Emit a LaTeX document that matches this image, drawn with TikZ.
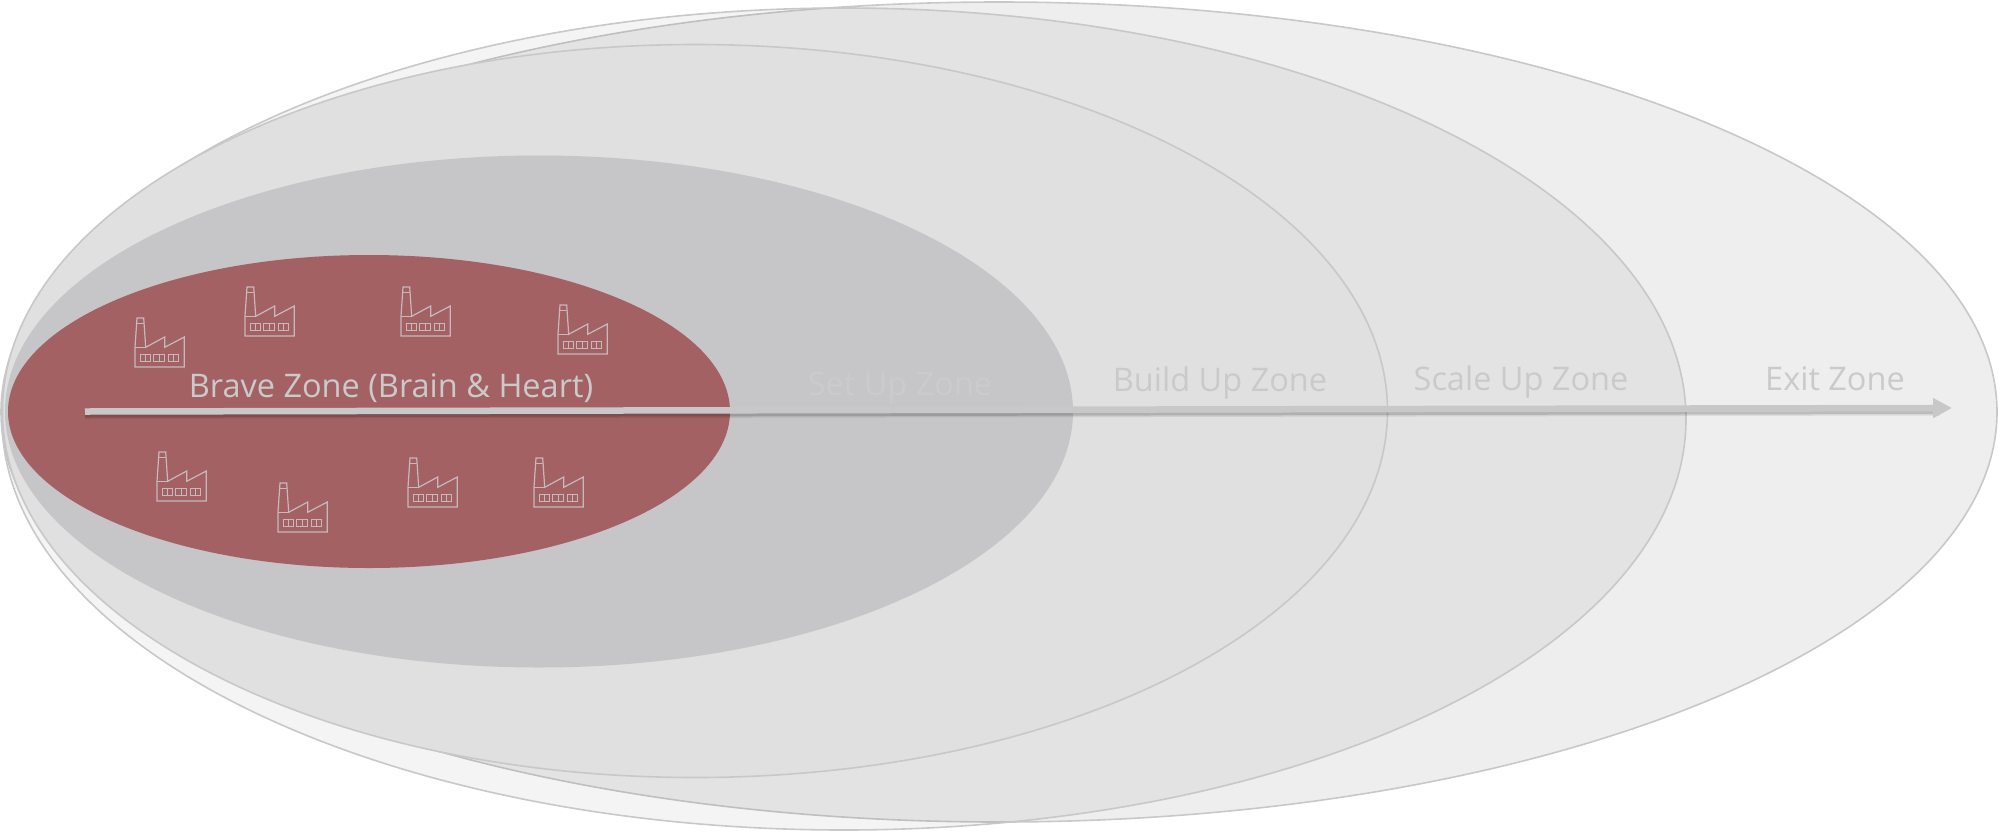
\documentclass[tikz,border=0pt]{standalone}
\usepackage{fontspec}
\setmainfont{Open Sans}
\usepackage{tikz}
\usetikzlibrary{positioning,arrows.meta,shapes.geometric}
\definecolor{exitfill}{HTML}{EEEEEE}
\definecolor{buildfill}{HTML}{E0E0E0}
\definecolor{setupfill}{HTML}{C6C6C8}
\definecolor{bravefill}{HTML}{A46164}
\definecolor{zoneline}{HTML}{C8C8C8}
\definecolor{zonetext}{HTML}{CACACA}
\definecolor{setuptext}{HTML}{CBCBCD}
\definecolor{iconline}{HTML}{C4BABC}
\tikzset{
  zone/.style={ellipse, inner sep=0pt, draw=zoneline, line width=1.6pt},
  zonelabel/.style={inner sep=0pt, anchor=base, text=zonetext, font=\fontsize{32.5}{38}\selectfont},
  factory/.pic={
    \draw[line width=1.2pt, draw=iconline, line join=miter]
      (0,0) -- (0,-19.7) -- (2,-49) -- (8.7,-49) -- (10.7,-19.7) -- (29.7,-30)
      -- (29.7,-19.7) -- (49.3,-30) -- (49.3,0) -- cycle;
    \draw[line width=1pt, draw=iconline] (0,-19.7) -- (10.7,-19.7) (2,-44) -- (8.7,-44);
    \draw[line width=1pt, draw=iconline]
      (5,-12.3) rectangle (15.7,-6) (10.3,-12.3) -- (10.3,-6)
      (18.7,-12.3) rectangle (29.3,-6) (24,-12.3) -- (24,-6)
      (33,-12.3) rectangle (43.7,-6) (38.3,-12.3) -- (38.3,-6);
  }
}
\begin{document}
\begin{tikzpicture}[x=1pt, y=-1pt]
  \useasboundingbox (0,0) rectangle (1998,831);

  % zones, outermost first
  \node[zone, fill=exitfill, minimum width=1996pt, minimum height=820pt] (exit) at (999,412) {};
  \node[zone, fill=black, fill opacity=.045, minimum width=1684pt, minimum height=822pt] (scale) at (844,419) {};
  \node[zone, fill=buildfill, minimum width=1385pt, minimum height=733pt] (build) at (695,411) {};
  \node[ellipse, inner sep=0pt, fill=setupfill, minimum width=1068pt, minimum height=512pt] (setup) at (539,411.5) {};
  \node[ellipse, inner sep=0pt, fill=bravefill, minimum width=722pt, minimum height=313pt] (brave) at (369,411.5) {};

  \pic at (135,367) {factory};
  \pic at (245,336) {factory};
  \pic at (401,336) {factory};
  \pic at (558,354) {factory};
  \pic at (157,501) {factory};
  \pic at (278,532) {factory};
  \pic at (408,507) {factory};
  \pic at (534,507) {factory};

  \node[zonelabel] (bravelabel) at (391,397) {Brave Zone (Brain \& Heart)};
  \node[zonelabel, text=setuptext] (setuplabel) at (900,395) {Set Up Zone};
  \node[zonelabel] (buildlabel) at (1220,391) {Build Up Zone};
  \node[zonelabel] (scalelabel) at (1521,390) {Scale Up Zone};
  \node[zonelabel] (exitlabel) at (1835,390) {Exit Zone};

  % arrow with its soft shadow
  \coordinate (arrowstart) at (85,411.5);
  \coordinate (arrowend) at (1952,408);
  \coordinate (shadowstart) at (85,416);
  \coordinate (shadowend) at (1940,412.5);
  \draw[black, opacity=.08, line width=6pt] (shadowstart) -- (shadowend);
  \draw[black, opacity=.14, line width=3pt] (shadowstart) -- (shadowend);
  \draw[zoneline, line width=6.5pt, -{Triangle[length=19pt,width=19pt]}] (arrowstart) -- (arrowend);
\end{tikzpicture}
\end{document}
